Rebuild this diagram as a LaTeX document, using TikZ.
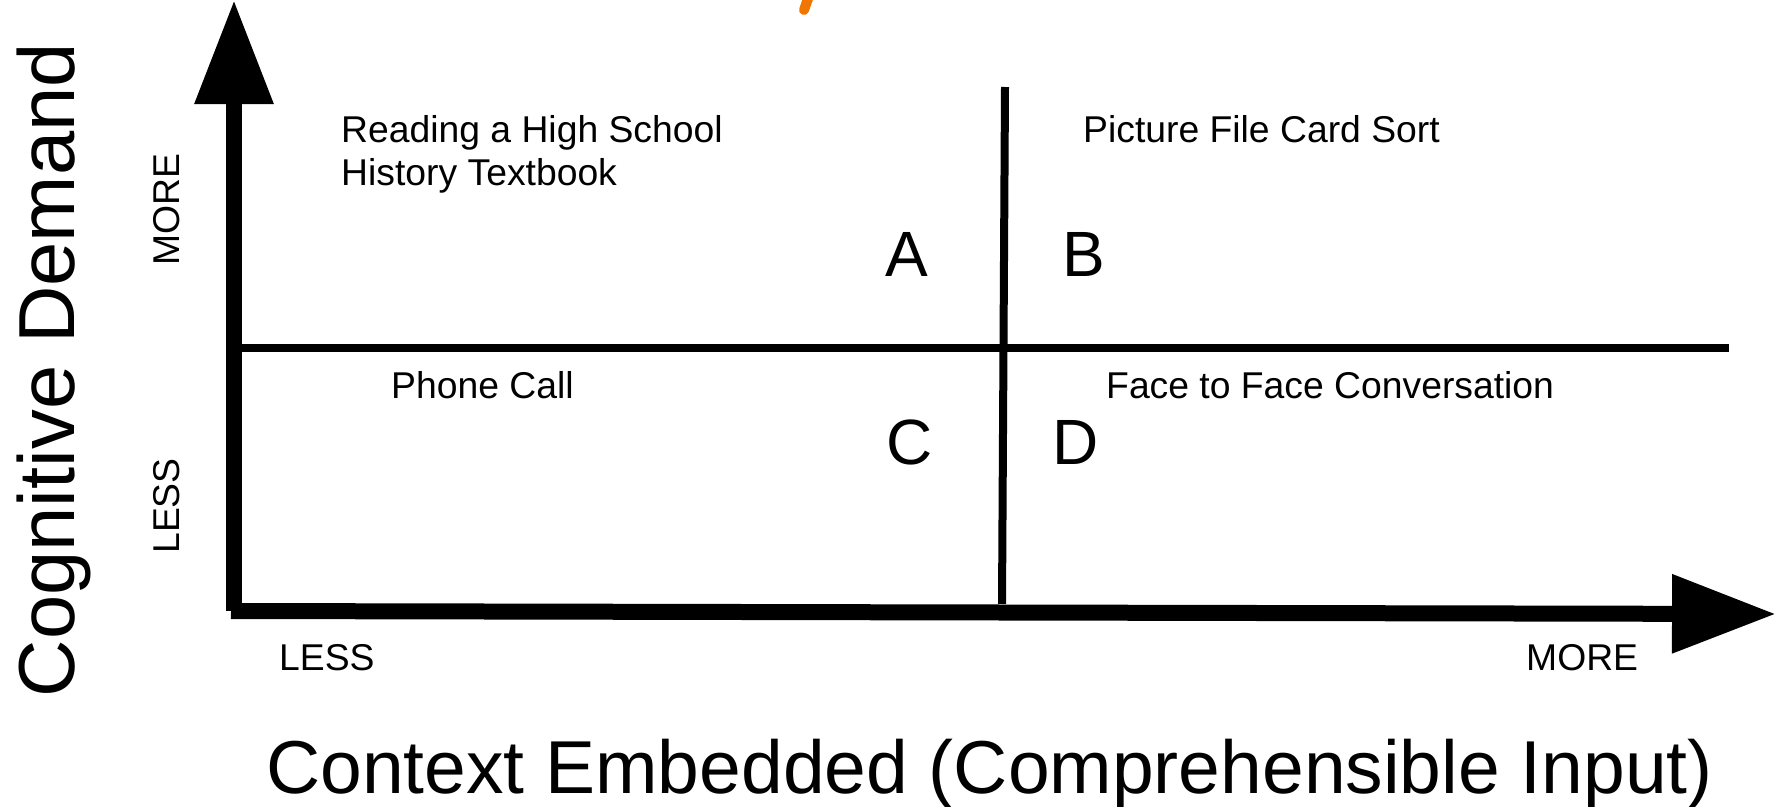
\documentclass[tikz,border=0pt]{standalone}
\usepackage{fontspec}
\setmainfont{Liberation Sans}
\usepackage{xcolor}
\usetikzlibrary{arrows.meta, positioning}
\definecolor{markorange}{RGB}{240,118,0}

\begin{document}
\begin{tikzpicture}[
    x=1pt, y=-1pt,
    every node/.style={inner sep=0pt, font=\fontsize{37.3}{43}\selectfont},
    axis/.style={line width=16pt, -{Triangle[length=104pt, width=75pt]}},
    divider/.style={line width=8pt},
    quad/.style={font=\fontsize{64}{64}\selectfont},
    title/.style={font=\fontsize{75}{80}\selectfont}
  ]
  \useasboundingbox (0,0) rectangle (1783,806);

  % axes and quadrant dividers
  \coordinate (ybot) at (234,611);
  \coordinate (ytop) at (234,0);
  \coordinate (xleft) at (231,611);
  \coordinate (xright) at (1776,614);
  \coordinate (hleft) at (242,348);
  \coordinate (hright) at (1729,348);
  \coordinate (vtop) at (1005,87);
  \coordinate (vbot) at (1002,604);
  \draw[divider] (hleft) -- (hright);
  \draw[divider] (vtop) -- (vbot);
  \draw[axis] (ybot) -- (ytop);
  \draw[axis] (xleft) -- (xright);

  % leftover orange stroke at the top
  \coordinate (mtop) at (809,-4);
  \coordinate (mbot) at (804,10);
  \draw[markorange, line width=10pt, line cap=round] (mtop) -- (mbot);

  % quadrant texts
  \node[anchor=base west] (read1) at (341,142) {Reading a High School};
  \node[anchor=base west] (read2) at ([yshift=-43pt]read1.base west) {History Textbook};
  \node[anchor=base west] (sort) at (1083,142) {Picture File Card Sort};
  \node[anchor=base west] (phone) at (391,398) {Phone Call};
  \node[anchor=base west] (face) at (1106,398) {Face to Face Conversation};

  \node[quad] (qa) at (907,254) {A};
  \node[quad] (qb) at (1084,254) {B};
  \node[quad] (qc) at (910,442) {C};
  \node[quad] (qd) at (1076,442) {D};

  % axis labels
  \node[anchor=base, rotate=90] (ymore) at (179,210) {MORE};
  \node[anchor=base, rotate=90] (yless) at (179,506) {LESS};
  \node[anchor=base west] (xless) at (279,670) {LESS};
  \node[anchor=base west] (xmore) at (1526,670) {MORE};

  \node[title, font=\fontsize{79.5}{80}\selectfont, anchor=base, rotate=90] (ytitle) at (74,370) {Cognitive Demand};
  \node[title, anchor=base west] (xtitle) at (266,793) {Context Embedded (Comprehensible Input)};
\end{tikzpicture}
\end{document}
